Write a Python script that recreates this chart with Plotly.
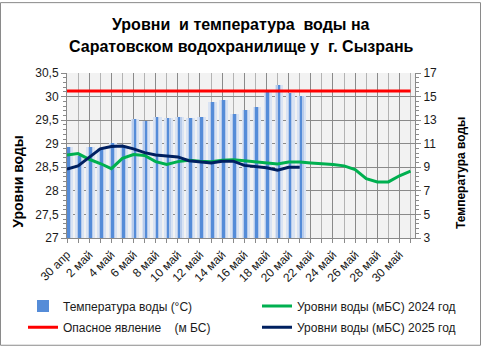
import plotly.graph_objects as go

# ---- data ----
dates = ["30 апр"] + [f"{d} май" for d in range(1, 32)]
tick_labels = ["30 апр", "2 май", "4 май", "6 май", "8 май", "10 май", "12 май", "14 май",
               "16 май", "18 май", "20 май", "22 май", "24 май", "26 май", "28 май", "30 май"]

temp_2025 = [10.7, 10.0, 10.7, 10.6, 11.1, 10.8, 13.1, 12.9, 13.3, 13.15, 13.3, 13.15,
             13.3, 14.55, 14.7, 13.5, 13.9, 14.15, 15.4, 15.95, 15.3, 15.07]

level_2024 = [28.76, 28.79, 28.67, 28.58, 28.47, 28.69, 28.77, 28.75, 28.62, 28.56, 28.62, 28.65,
              28.63, 28.62, 28.65, 28.66, 28.64, 28.62, 28.59, 28.57, 28.61, 28.61,
              28.59, 28.58, 28.56, 28.53, 28.45, 28.26, 28.19, 28.19, 28.32, 28.42]

level_2025 = [28.46, 28.53, 28.71, 28.89, 28.94, 28.95, 28.89, 28.81, 28.76, 28.74, 28.72, 28.64,
              28.62, 28.59, 28.63, 28.63, 28.54, 28.52, 28.49, 28.44, 28.50, 28.50]

danger_level = [30.12] * 32

idx_all = list(range(len(dates)))
idx_t = idx_all[:len(temp_2025)]

fig = go.Figure()

# temperature bars (glow + core), on primary y (temperature, right side)
fig.add_trace(go.Bar(x=idx_t, y=temp_2025, width=0.78, offset=-0.25,
                     marker=dict(color="#d9e3f3", line_width=0), showlegend=False, hoverinfo="skip"))
fig.add_trace(go.Bar(x=idx_t, y=temp_2025, width=0.44, offset=-0.1,
                     marker=dict(color="#b7cbeb", line_width=0), showlegend=False, hoverinfo="skip"))
fig.add_trace(go.Bar(x=idx_t, y=temp_2025, width=0.24, offset=0.0,
                     marker=dict(color="#558cd8", line_width=0),
                     name="Температура воды (°С)", legend="legend"))

fig.add_trace(go.Scatter(x=idx_all, y=level_2024, yaxis="y2", mode="lines",
                         line=dict(color="#00b050", width=3),
                         name="Уровни воды (мБС) 2024 год", legend="legend2"))
fig.add_trace(go.Scatter(x=idx_all, y=danger_level, yaxis="y2", mode="lines",
                         line=dict(color="#ff0000", width=3),
                         name="Опасное явление    (м БС)", legend="legend3"))
fig.add_trace(go.Scatter(x=idx_t, y=level_2025, yaxis="y2", mode="lines",
                         line=dict(color="#002060", width=3),
                         name="Уровни воды (мБС) 2025 год", legend="legend4"))

L, R, T, B = 67, 66, 73, 111
W, H = 481, 354
pw, ph = W - L - R, H - T - B

def px(x):
    return (x - L) / pw

def py(y):
    return (H - B - y) / ph

grid_dark = "#8a8a8a"
grid_light = "#b3b3b3"
tick_font = dict(family="Liberation Sans, Arial, sans-serif", size=12, color="#1a1a1a")

def leg(x, y):
    return dict(orientation="h", x=px(x), xanchor="left", y=py(y), yanchor="middle",
                font=dict(size=12, color="#1a1a1a"), bgcolor="rgba(0,0,0,0)")

fig.update_layout(
    width=W, height=H,
    margin=dict(l=L, r=R, t=T, b=B),
    paper_bgcolor="white",
    plot_bgcolor="#f2f2f2",
    separators=", ",
    barmode="overlay",
    bargap=0,
    font=dict(family="Liberation Sans, Arial, sans-serif", size=12, color="#1a1a1a"),
    xaxis=dict(
        range=[0, 31.4],
        tickvals=idx_all[::2], ticktext=tick_labels,
        tickangle=-45, tickfont=tick_font,
        ticks="outside", ticklen=4, tickcolor=grid_dark,
        showgrid=True, gridcolor=grid_dark, gridwidth=1,
        showline=True, linecolor=grid_dark, linewidth=1,
        zeroline=False,
        minor=dict(tickvals=idx_all[1::2], ticks="outside", ticklen=4, tickcolor=grid_dark,
                   showgrid=True, gridcolor=grid_light, gridwidth=1),
    ),
    yaxis=dict(
        range=[3, 17], dtick=2, tick0=3, side="right",
        tickfont=tick_font,
        ticks="outside", ticklen=5, tickcolor=grid_dark,
        showgrid=True, gridcolor=grid_dark, gridwidth=1,
        showline=True, linecolor=grid_dark, linewidth=1,
        zeroline=False,
        minor=dict(dtick=0.4, tick0=3, ticks="outside", ticklen=3, tickcolor=grid_dark, showgrid=False),
    ),
    yaxis2=dict(
        range=[27, 30.5], dtick=0.5, tick0=27, side="left", overlaying="y",
        tickfont=tick_font,
        ticks="outside", ticklen=5, tickcolor=grid_dark,
        showgrid=False,
        showline=True, linecolor=grid_dark, linewidth=1,
        zeroline=False,
        minor=dict(dtick=0.1, tick0=27, ticks="outside", ticklen=3, tickcolor=grid_dark, showgrid=False),
    ),
    legend=leg(23, 313),
    legend2=leg(257, 313),
    legend3=leg(23, 335),
    legend4=leg(257, 335),
    showlegend=True,
)

title_font = dict(family="Liberation Sans, Arial, sans-serif", size=16, color="#000000")
fig.add_annotation(text="<b>Уровни  и температура  воды на</b>", x=px(241), y=py(23),
                   xref="paper", yref="paper", showarrow=False, font=title_font,
                   xanchor="center", yanchor="middle")
fig.add_annotation(text="<b>Саратовском водохранилище у  г. Сызрань</b>", x=px(241.5), y=py(46),
                   xref="paper", yref="paper", showarrow=False, font=title_font,
                   xanchor="center", yanchor="middle")

fig.add_annotation(text="<b>Уровни воды</b>", x=px(18), y=py(185), xref="paper", yref="paper",
                   showarrow=False, textangle=-90,
                   font=dict(family="Liberation Sans, Arial, sans-serif", size=14, color="#000000"),
                   xanchor="center", yanchor="middle")
fig.add_annotation(text="<b>Температура воды</b>", x=px(461), y=py(176), xref="paper", yref="paper",
                   showarrow=False, textangle=-90,
                   font=dict(family="Liberation Sans, Arial, sans-serif", size=12, color="#000000"),
                   xanchor="center", yanchor="middle")

# outer chart border
fig.add_shape(type="rect", xref="paper", yref="paper",
              x0=px(0.5), x1=px(480.5), y0=py(353.5), y1=py(0.5),
              line=dict(color="#8a8a8a", width=1), fillcolor="rgba(0,0,0,0)", layer="below")

fig.write_html("out.html")
